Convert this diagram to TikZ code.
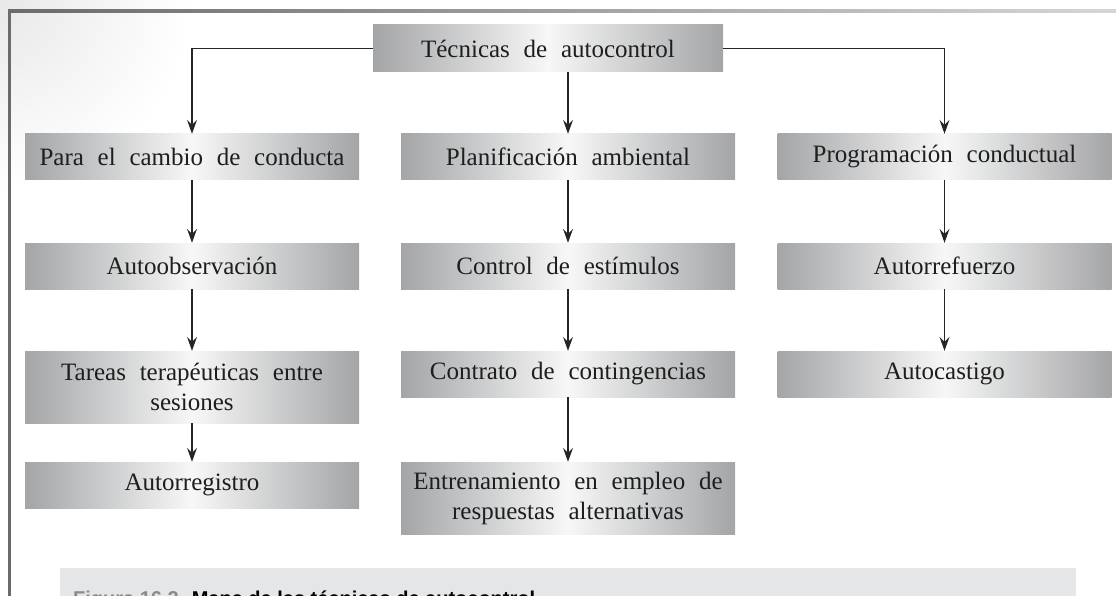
\documentclass[tikz,border=0pt]{standalone}
\usepackage{fontspec}
\setmainfont{Liberation Serif}[WordSpace={2.2,1,1}]
\newfontfamily\capfont{Liberation Sans}
\usetikzlibrary{arrows.meta}
\usetikzlibrary{positioning}
\definecolor{frameline}{HTML}{6B6B6B}
\definecolor{framefade}{HTML}{D6D6D6}
\definecolor{boxedge}{HTML}{A4A5A7}
\definecolor{boxmid}{HTML}{F7F7F7}
\definecolor{capfill}{HTML}{E5E6E7}
\definecolor{capgray}{HTML}{8A8A8A}
\definecolor{ink}{HTML}{1E1E1E}
\definecolor{arrowink}{HTML}{262626}
\tikzset{
  tbox/.style={
    minimum width=334pt, minimum height=46pt, inner sep=0pt,
    left color=boxedge, right color=boxedge, middle color=boxmid,
    font=\fontsize{25}{30}\selectfont, text=ink, align=center},
  tarrow/.style={-{Stealth[length=14pt, width=10pt, inset=5pt]},
    draw=arrowink, line width=1.2pt},
  captext/.style={anchor=base west, inner sep=0pt,
    font=\fontsize{20}{24}\selectfont\capfont\bfseries},
}
\begin{document}
\begin{tikzpicture}[x=1pt, y=1pt]
\useasboundingbox (0,0) rectangle (1116,-596);
\clip (0,0) rectangle (1116,-596);

% Page frame.
\shade[inner color=black!9, outer color=white] (0,0) circle (190);
\shade[left color=frameline, right color=framefade] (8,-9.5) rectangle (1116,-12.5);
\fill[frameline] (8,-9.5) rectangle (11,-596);

% Root and first level.
\node[tbox, minimum width=350pt, minimum height=47pt] (tec) at (548,-48.5)
  {Técnicas de autocontrol};
\node[tbox] (cambio) at (192,-157) {Para el cambio de conducta};
\node[tbox] (plan) at (568,-157) {Planificación ambiental};
\node[tbox] (prog) at (944.5,-157) {Programación conductual};
\draw[tarrow] (tec.west) -| (cambio.north);
\draw[tarrow] (tec.south -| plan.north) -- (plan.north);
\draw[tarrow] (tec.east) -| (prog.north);

% Behaviour change branch.
\node[tbox] (autoobs) at (192,-266) {Autoobservación};
\node[tbox, minimum height=72pt] (tareas) at (192,-387)
  {Tareas terapéuticas entre\\sesiones};
\node[tbox] (autoreg) at (192,-485) {Autorregistro};
\draw[tarrow] (cambio.south) -- (autoobs.north);
\draw[tarrow] (autoobs.south) -- (tareas.north);
\draw[tarrow] (tareas.south) -- (autoreg.north);

% Environmental planning branch.
\node[tbox] (control) at (568,-266) {Control de estímulos};
\node[tbox] (contrato) at (568,-374) {Contrato de contingencias};
\node[tbox, minimum height=72pt] (entren) at (568,-498)
  {Entrenamiento en empleo de\\respuestas alternativas};
\draw[tarrow] (plan.south) -- (control.north);
\draw[tarrow] (control.south) -- (contrato.north);
\draw[tarrow] (contrato.south) -- (entren.north);

% Behavioural programming branch.
\node[tbox] (refuerzo) at (944.5,-266) {Autorrefuerzo};
\node[tbox] (castigo) at (944.5,-374) {Autocastigo};
\draw[tarrow] (prog.south) -- (refuerzo.north);
\draw[tarrow] (refuerzo.south) -- (castigo.north);

% Caption strip, cut by the page edge.
\fill[capfill] (60,-568) rectangle (1076,-596);
\node[captext] (caption) at (73,-605.5)
  {\textcolor{capgray}{Figura 16.2.} Mapa de las técnicas de autocontrol};

\end{tikzpicture}
\end{document}
